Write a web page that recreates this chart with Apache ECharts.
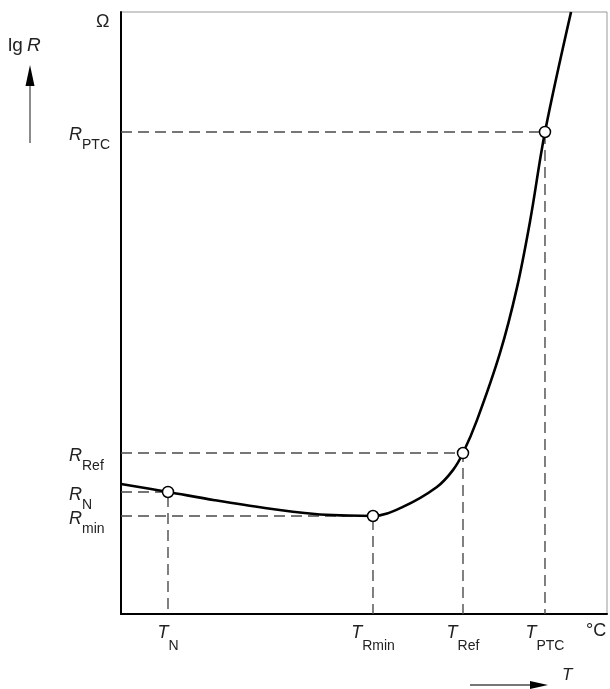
<!DOCTYPE html>
<html>
<head>
<meta charset="utf-8">
<script src="https://cdn.jsdelivr.net/npm/echarts@6/dist/echarts.min.js"></script>
<style>html,body{margin:0;padding:0;background:#fff}#c{width:610px;height:689px}</style>
</head>
<body>
<div id="c"></div>
<script>
// curve samples (temperature in arbitrary units, lg R in arbitrary units)
var curveT = [0, 9.67, 19.3, 29.6, 39.9, 46.7, 51.85, 58.0, 65.0, 68.3, 70.37, 73.25, 78.0, 81.5, 84.2, 87.24, 92.6];
var curveR = [21.6, 20.27, 18.9, 17.6, 16.6, 16.35, 16.28, 17.8, 21.1, 23.9, 26.74, 32.2, 43.4, 54.3, 65.4, 80.07, 100];
// marked points
var pointT = [9.67, 51.85, 70.37, 87.24];
var pointR = [20.27, 16.28, 26.74, 80.07];
// labels
var tSubs = ['N', 'Rmin', 'Ref', 'PTC'];
var rSubs = ['N', 'min', 'Ref', 'PTC'];

var chart = echarts.init(document.getElementById('c'));
var FONT = '"Liberation Sans", Arial, sans-serif';

function idxOf(arr, v) {
  for (var i = 0; i < arr.length; i++) if (Math.abs(arr[i] - v) < 1e-6) return i;
  return -1;
}
var yLabelValues = [0].concat(pointR.slice().sort(function (a, b) { return a - b; }));

var series = [];
for (var i = 0; i < pointT.length; i++) {
  series.push({
    type: 'line', silent: true, symbol: 'none', z: 1,
    data: [[0, pointR[i]], [pointT[i], pointR[i]], [pointT[i], 0]],
    lineStyle: { color: '#4a4a4a', width: 1.4, type: [11, 6] }
  });
}
series.push({
  type: 'line', smooth: 0.35, symbol: 'none', z: 3, clip: true,
  data: curveT.map(function (t, k) { return [t, curveR[k]]; }),
  lineStyle: { color: '#000', width: 2.6 }
});
series.push({
  type: 'scatter', z: 5, symbol: 'circle', symbolSize: 11,
  data: pointT.map(function (t, k) { return [t, pointR[k]]; }),
  itemStyle: { color: '#fff', opacity: 1, borderColor: '#000', borderWidth: 1.5 }
});

chart.setOption({
  animation: false,
  grid: { left: 121, right: 3, top: 12, bottom: 75, show: true, borderColor: '#999', borderWidth: 1 },
  xAxis: {
    type: 'value', min: 0, max: 100,
    axisLine: { onZero: false, lineStyle: { color: '#000', width: 2 } },
    axisTick: { show: false }, splitLine: { show: false },
    axisLabel: {
      customValues: pointT, margin: 4, hideOverlap: false, showMinLabel: true, showMaxLabel: true,
      formatter: function (v) { var i = idxOf(pointT, v); return i < 0 ? '' : '{r|T}{s|' + tSubs[i] + '}'; },
      rich: {
        r: { fontFamily: FONT, fontSize: 18, fontStyle: 'italic', color: '#222', lineHeight: 18, padding: [6, 0, 0, 0], verticalAlign: 'top' },
        s: { fontFamily: FONT, fontSize: 14, color: '#222', lineHeight: 14, padding: [21, 0, 0, 0], verticalAlign: 'top' }
      }
    }
  },
  yAxis: {
    type: 'value', min: 0, max: 100,
    axisLine: { onZero: false, lineStyle: { color: '#000', width: 2 } },
    axisTick: { show: false }, splitLine: { show: false },
    axisLabel: {
      customValues: yLabelValues, margin: 52, align: 'left', hideOverlap: false, showMinLabel: true, showMaxLabel: true,
      formatter: function (v) { var i = idxOf(pointR, v); return i < 0 ? '' : '{r|R}{s|' + rSubs[i] + '}'; },
      rich: {
        r: { fontFamily: FONT, fontSize: 18, fontStyle: 'italic', color: '#222', lineHeight: 18, padding: [3, 0, 0, 0], verticalAlign: 'top' },
        s: { fontFamily: FONT, fontSize: 14, color: '#222', lineHeight: 14, padding: [15, 0, 0, 0], verticalAlign: 'top' }
      }
    }
  },
  graphic: [
    { type: 'text', left: 96, top: 13, style: { text: 'Ω', font: '18px ' + FONT, fill: '#222' } },
    { type: 'text', left: 8, top: 36, style: { text: 'lg ', font: '19px ' + FONT, fill: '#222' } },
    { type: 'text', left: 27, top: 36, style: { text: 'R', font: 'italic 19px ' + FONT, fill: '#222' } },
    { type: 'line', shape: { x1: 30, y1: 143, x2: 30, y2: 82 }, style: { stroke: '#666', lineWidth: 1.5 } },
    { type: 'polygon', shape: { points: [[25.5, 86], [34.5, 86], [30, 65]] }, style: { fill: '#000' } },
    { type: 'text', left: 586, top: 622, style: { text: '°C', font: '18px ' + FONT, fill: '#222' } },
    { type: 'line', shape: { x1: 470, y1: 685, x2: 533, y2: 685 }, style: { stroke: '#777', lineWidth: 2 } },
    { type: 'polygon', shape: { points: [[530, 681], [530, 689], [548, 685]] }, style: { fill: '#000' } },
    { type: 'text', left: 562, top: 667, style: { text: 'T', font: 'italic 17px ' + FONT, fill: '#222' } }
  ],
  series: series
});
</script>
</body>
</html>
